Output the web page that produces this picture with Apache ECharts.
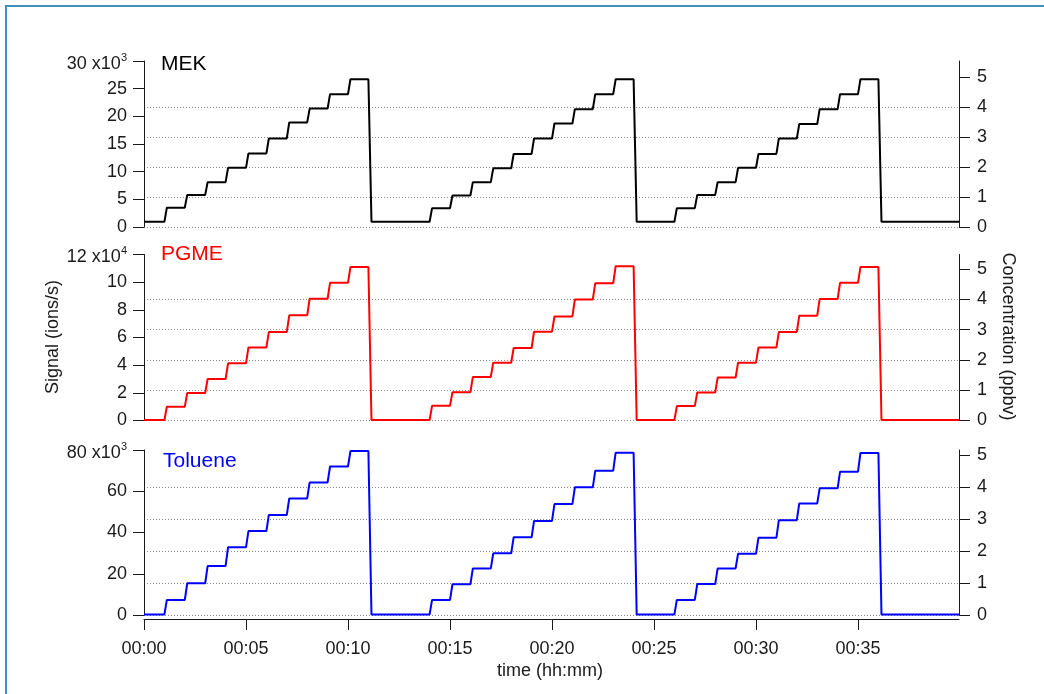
<!DOCTYPE html>
<html>
<head>
<meta charset="utf-8">
<script src="https://cdn.jsdelivr.net/npm/echarts@6/dist/echarts.min.js"></script>
<style>
  html, body { margin: 0; padding: 0; background: #ffffff; }
  #chart { width: 1044px; height: 694px; }
</style>
</head>
<body>
<div id="chart"></div>
<script>
// Calibration ramps: each cycle steps up through 10 concentration levels, one minute per level
const cycleStarts = [1, 14, 26];      // minute of the first step in each cycle
const stepMinutes = 1;
const endMinute = 39.95;
const timeTicks = [0, 5, 10, 15, 20, 25, 30, 35];

// MEK signal (ions/s)
const mekBaseline = 950;
const mekCycle1 = [3500, 5800, 8100, 10700, 13300, 16000, 18900, 21400, 24000, 26700];
const mekCycle2 = [3400, 5700, 8100, 10600, 13200, 16000, 18700, 21300, 24000, 26700];
const mekCycle3 = [3400, 5800, 8100, 10700, 13200, 16000, 18600, 21300, 24000, 26700];

// PGME signal (ions/s)
const pgmeBaseline = 300;
const pgmeCycle1 = [10000, 19900, 30000, 41300, 52800, 64000, 76000, 88000, 99500, 111000];
const pgmeCycle2 = [10600, 20500, 31500, 41800, 52400, 64200, 75200, 87500, 99300, 111500];
const pgmeCycle3 = [10400, 20300, 31000, 41800, 52800, 64000, 75800, 87800, 99500, 111000];

// Toluene signal (ions/s)
const tolBaseline = 300;
const tolCycle1 = [7300, 15400, 23800, 32800, 40700, 48500, 56500, 64300, 72000, 79500];
const tolCycle2 = [7300, 14900, 22600, 29900, 37700, 45600, 53800, 61900, 70000, 78700];
const tolCycle3 = [7300, 15000, 22600, 29700, 37500, 46000, 54100, 61400, 69500, 78600];

// Axis tick values
const mekTicks = [0, 5000, 10000, 15000, 20000, 25000, 30000];
const pgmeTicks = [0, 20000, 40000, 60000, 80000, 100000, 120000];
const tolTicks = [0, 20000, 40000, 60000, 80000];
const concTicks = [0, 1, 2, 3, 4, 5];

const FONT = 'Liberation Sans, Arial, sans-serif';
const TICK_FONT = 18;

// Turn the level lists into a stepped time trace
function buildTrace(baseline, cycles) {
  const pts = [[0, baseline]];
  cycles.forEach((levels, i) => {
    const t0 = cycleStarts[i];
    let prev = baseline;
    levels.forEach((lv, k) => {
      const t = t0 + k * stepMinutes;
      pts.push([t, prev]);
      pts.push([t + 0.12, lv]);
      prev = lv;
    });
    const tEnd = t0 + levels.length * stepMinutes;
    pts.push([tEnd, prev]);
    pts.push([tEnd + 0.15, baseline]);
  });
  pts.push([endMinute, baseline]);
  return pts;
}

const mekData = buildTrace(mekBaseline, [mekCycle1, mekCycle2, mekCycle3]);
const pgmeData = buildTrace(pgmeBaseline, [pgmeCycle1, pgmeCycle2, pgmeCycle3]);
const tolData = buildTrace(tolBaseline, [tolCycle1, tolCycle2, tolCycle3]);

const panels = [
  { top: 61,    height: 166, ticks: mekTicks,  scale: 1000,  exp: '3', color: '#000000', data: mekData,  concMax: 5.53 },
  { top: 254.5, height: 166, ticks: pgmeTicks, scale: 10000, exp: '4', color: '#ff0000', data: pgmeData, concMax: 5.48 },
  { top: 450,   height: 165, ticks: tolTicks,  scale: 1000,  exp: '3', color: '#0000ff', data: tolData,  concMax: 5.16 }
];

const axisColor = '#1a1a1a';
const grids = [], xAxes = [], yAxes = [], series = [];

panels.forEach((p, i) => {
  const sigMax = p.ticks[p.ticks.length - 1];
  grids.push({ left: 144, width: 815, top: p.top, height: p.height });

  const isBottom = i === panels.length - 1;
  xAxes.push({
    type: 'value', gridIndex: i, min: 0, max: endMinute, interval: 5,
    show: isBottom,
    offset: 4,
    axisLine: { show: true, onZero: false, lineStyle: { color: axisColor, width: 1 } },
    axisTick: { show: true, inside: false, length: 11, customValues: timeTicks, lineStyle: { color: axisColor, width: 1 } },
    axisLabel: {
      show: true, margin: 21, fontSize: TICK_FONT, fontFamily: FONT, color: '#1a1a1a',
      customValues: timeTicks,
      formatter: v => '00:' + String(Math.round(v)).padStart(2, '0')
    },
    splitLine: { show: false }
  });

  // Signal axis (left)
  yAxes.push({
    type: 'value', gridIndex: i, position: 'left', min: 0, max: sigMax,
    interval: p.ticks[1] - p.ticks[0],
    axisLine: { show: true, lineStyle: { color: axisColor, width: 1 } },
    axisTick: { show: true, inside: false, length: 11, lineStyle: { color: axisColor, width: 1 } },
    axisLabel: {
      margin: 17, fontSize: TICK_FONT, fontFamily: FONT, color: '#1a1a1a',
      formatter: v => v === sigMax
        ? '{n|' + (v / p.scale) + ' x10}{sup|' + p.exp + '}'
        : String(v / p.scale),
      rich: {
        n: { fontSize: TICK_FONT, fontFamily: FONT, color: '#1a1a1a', lineHeight: 18, padding: [6, 0, 0, 0] },
        sup: { fontSize: 11, fontFamily: FONT, color: '#1a1a1a', verticalAlign: 'top', lineHeight: 11 }
      }
    },
    splitLine: { show: false }
  });

  // Concentration axis (right) carries the dotted grid
  yAxes.push({
    type: 'value', gridIndex: i, position: 'right', min: 0, max: p.concMax, interval: 1,
    axisLine: { show: true, lineStyle: { color: axisColor, width: 1 } },
    axisTick: { show: true, inside: false, length: 11, customValues: concTicks, lineStyle: { color: axisColor, width: 1 } },
    axisLabel: { margin: 18, fontSize: TICK_FONT, fontFamily: FONT, color: '#1a1a1a', customValues: concTicks },
    splitLine: { show: true, showMaxLine: false, lineStyle: { color: '#8a8a8a', width: 1, type: [1, 2] } }
  });

  series.push({
    type: 'line', xAxisIndex: i, yAxisIndex: i * 2, data: p.data,
    showSymbol: false, symbol: 'none', smooth: false,
    lineStyle: { color: p.color, width: 2 }, clip: true, z: 5
  });
});

const chart = echarts.init(document.getElementById('chart'), null, { renderer: 'canvas' });
chart.setOption({
  animation: false,
  backgroundColor: '#ffffff',
  grid: grids,
  xAxis: xAxes,
  yAxis: yAxes,
  series: series,
  graphic: [
    { type: 'rect', shape: { x: 6, y: 6, width: 1200, height: 900 }, style: { fill: 'none', stroke: '#3f8fb6', lineWidth: 2 }, silent: true },
    { type: 'text', x: 161, y: 64.5, style: { text: 'MEK', fontSize: 21, fontFamily: FONT, fill: '#000000', verticalAlign: 'middle' } },
    { type: 'text', x: 161, y: 254, style: { text: 'PGME', fontSize: 21, fontFamily: FONT, fill: '#ff0000', verticalAlign: 'middle' } },
    { type: 'text', x: 163, y: 461, style: { text: 'Toluene', fontSize: 21, fontFamily: FONT, fill: '#0000ff', verticalAlign: 'middle' } },
    { type: 'text', x: 53.5, y: 337, rotation: Math.PI / 2, style: { text: 'Signal (ions/s)', fontSize: 18, fontFamily: FONT, fill: '#1a1a1a', align: 'center', verticalAlign: 'middle' } },
    { type: 'text', x: 1008, y: 336.5, rotation: -Math.PI / 2, style: { text: 'Concentration (ppbv)', fontSize: 18, fontFamily: FONT, fill: '#1a1a1a', align: 'center', verticalAlign: 'middle' } },
    { type: 'text', x: 550, y: 671, style: { text: 'time (hh:mm)', fontSize: 18, fontFamily: FONT, fill: '#1a1a1a', align: 'center', verticalAlign: 'middle' } }
  ]
});
</script>
</body>
</html>
